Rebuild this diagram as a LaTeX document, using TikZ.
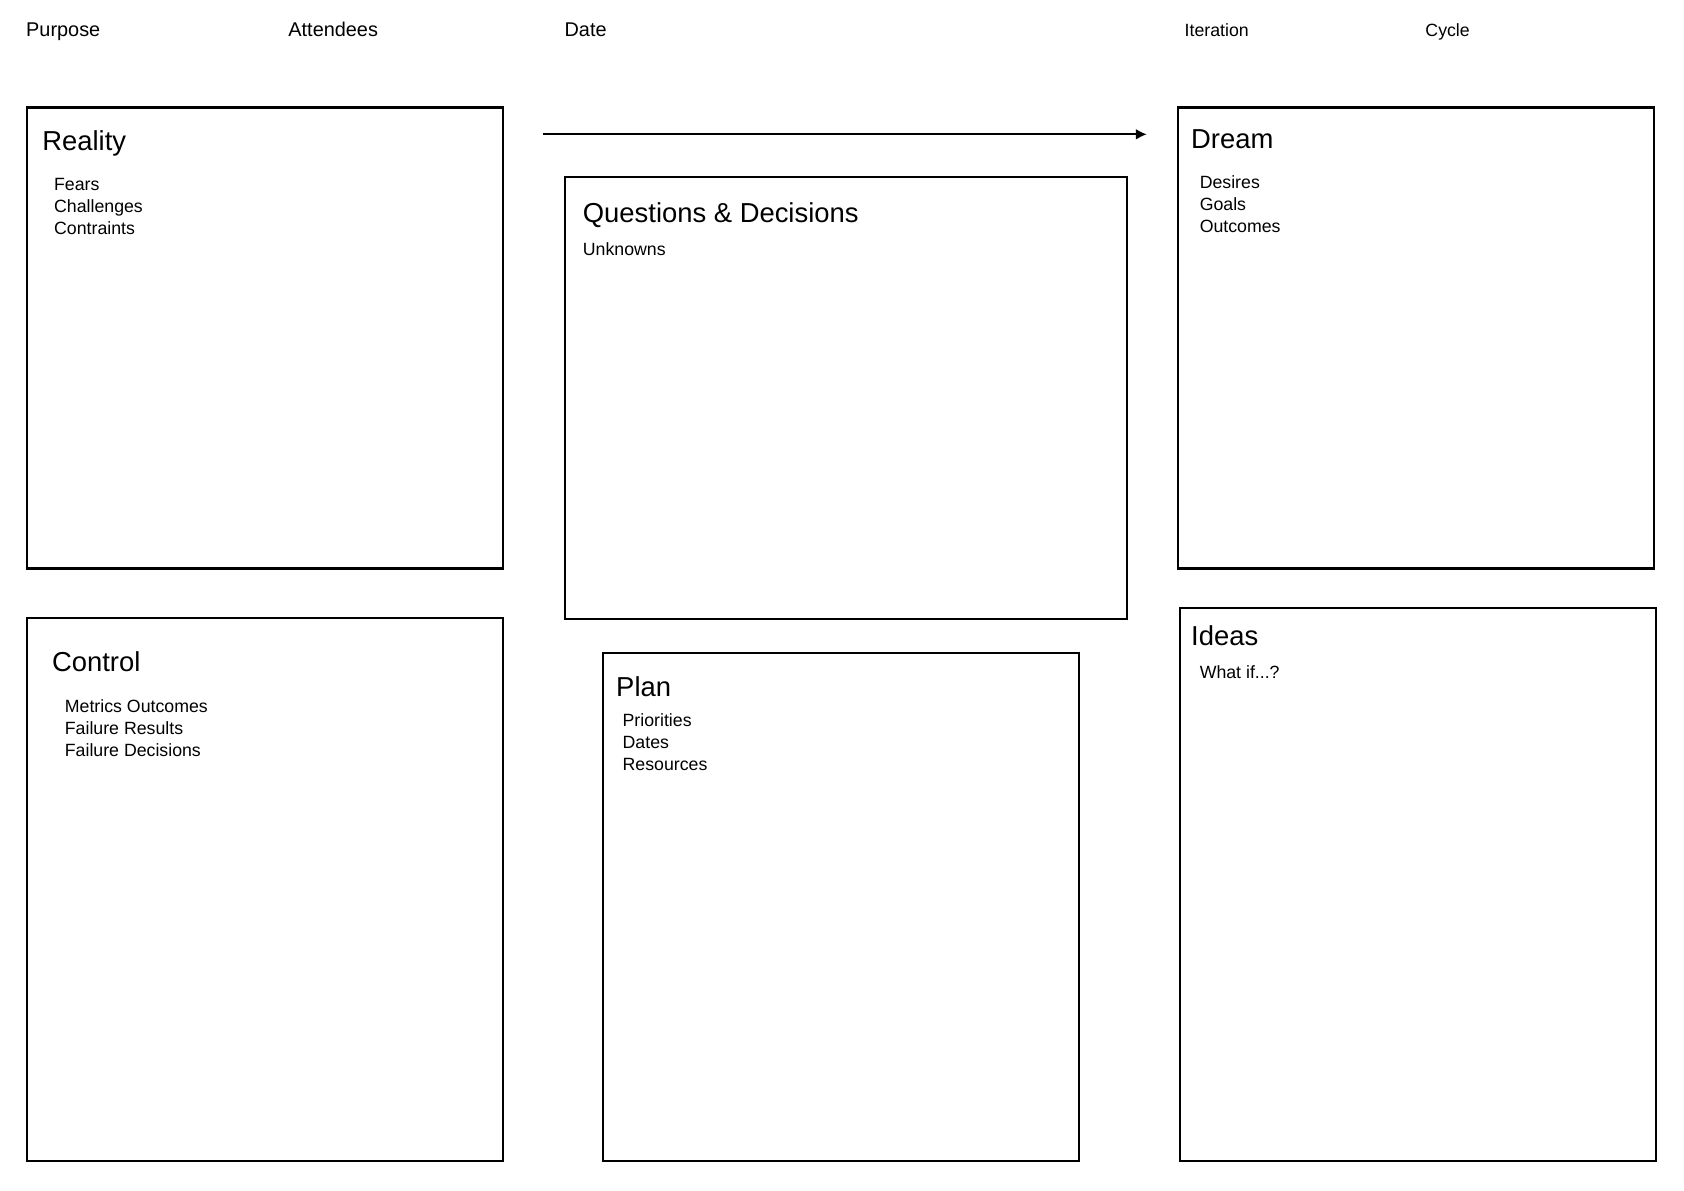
\documentclass[tikz,border=0pt]{standalone}
\usepackage{fontspec}
\setmainfont{Liberation Sans}
\usetikzlibrary{arrows.meta,positioning}

\begin{document}
\begin{tikzpicture}[x=0.5pt, y=-0.5pt]

\tikzset{
  panel/.style={draw, line width=1pt},
  header/.style={anchor=base west, inner sep=0pt, font=\fontsize{9.25}{11}\selectfont},
  small header/.style={header, font=\fontsize{8.25}{10}\selectfont},
  title/.style={anchor=base west, inner sep=0pt, font=\fontsize{12.75}{15}\selectfont},
  entry/.style={anchor=base west, inner sep=0pt, font=\fontsize{8.25}{10}\selectfont}
}

\useasboundingbox (0,0) rectangle (1567,1107.5);

% header line
\node[header] (purpose) at (24,33.5) {Purpose};
\node[header] (attendees) at (268,33.5) {Attendees};
\node[header] (date) at (525,33.5) {Date};
\node[small header] (iteration) at (1102,34) {Iteration};
\node[small header] (cycle) at (1326,34) {Cycle};

% left column
\draw[panel] (25,100) rectangle (468,529);
\node[title] (reality) at (39,140) {Reality};
\foreach \t [count=\i from 0] in {Fears, Challenges, Contraints}
  \node[entry] (reality-\i) at (50,{177+20.5*\i}) {\t};

\draw[panel] (25,575) rectangle (468,1080);
\node[title] (control) at (48,625) {Control};
\foreach \t [count=\i from 0] in {Metrics Outcomes, Failure Results, Failure Decisions}
  \node[entry] (control-\i) at (60,{663+20.5*\i}) {\t};

% middle column
\coordinate (flowstart) at (505,125);
\coordinate (flowend) at (1067,125);
\draw [-{Latex[length=5pt,width=5pt]}, line width=0.8pt] (flowstart) -- (flowend);

\draw[panel] (526,165) rectangle (1049,576);
\node[title] (questions) at (542,207) {Questions \& Decisions};
\node[entry] (unknowns) at (542,238) {Unknowns};

\draw[panel] (561,608) rectangle (1004,1080);
\node[title] (plan) at (573,648) {Plan};
\foreach \t [count=\i from 0] in {Priorities, Dates, Resources}
  \node[entry] (plan-\i) at (579,{676+20.5*\i}) {\t};

% right column
\draw[panel] (1096,100) rectangle (1539,529);
\node[title] (dream) at (1108,138) {Dream};
\foreach \t [count=\i from 0] in {Desires, Goals, Outcomes}
  \node[entry] (dream-\i) at (1116,{175+20.5*\i}) {\t};

\draw[panel] (1098,566) rectangle (1541,1080);
\node[title] (ideas) at (1108,601) {Ideas};
\node[entry] (whatif) at (1116,631) {What if...?};

\end{tikzpicture}
\end{document}
